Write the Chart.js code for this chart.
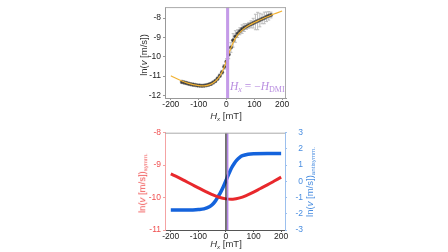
<!DOCTYPE html>
<html>
<head>
<meta charset="utf-8">
<script src="https://cdn.jsdelivr.net/npm/chart.js@4.4.0/dist/chart.umd.min.js"></script>
<style>
  body { margin: 0; width: 448px; height: 252px; background: #fff; position: relative; overflow: hidden;
         font-family: "Liberation Sans", Arial, sans-serif; }
  .wrap { position: absolute; }
  .lbl { position: absolute; white-space: nowrap; font-size: 9.5px; line-height: 1; }
  .rot { transform: translate(-50%, -50%) rotate(-90deg); }
  .hor { transform: translate(-50%, -50%); }
  .lbl sub { font-size: 65%; vertical-align: -0.3em; line-height: 0; }
  #dmi { left: 230px; top: 81px; font-family: "Liberation Serif", serif; font-size: 11.5px; color: #b98ee0; }
  #dmi sub { font-size: 70%; vertical-align: -0.3em; line-height: 0; }
</style>
</head>
<body>
<div class="wrap" style="left:100px;top:0;width:200px;height:125px"><canvas id="topChart" width="200" height="125"></canvas></div>
<div class="wrap" style="left:100px;top:125px;width:220px;height:127px"><canvas id="botChart" width="220" height="127"></canvas></div>

<div class="lbl rot" style="left:144px;top:55px;color:#333">ln(<i>v</i> [m/s])</div>
<div class="lbl hor" style="left:226px;top:116px;color:#333"><i>H</i><sub><i>x</i></sub> [mT]</div>
<div class="lbl" id="dmi"><i>H<sub>x</sub></i> = −<i>H</i><sub>DMI</sub></div>

<div class="lbl rot" style="left:141.5px;top:183px;color:#f05050">ln(<i>v</i> [m/s])<sub>symm.</sub></div>
<div class="lbl rot" style="left:309.5px;top:182px;color:#4a8ee0">ln(<i>v</i> [m/s])<sub>antisymm.</sub></div>
<div class="lbl hor" style="left:226px;top:244px;color:#333"><i>H</i><sub><i>x</i></sub> [mT]</div>

<script>
// ---------------- Data ----------------
// top panel: measured points with error bars
const fieldMT = [-160, -152, -144, -136, -128, -120, -112, -104, -96, -88, -80, -72, -64, -56, -48, -40,
  -32, -24, -16, -8, 0, 8, 16, 24, 32, 40, 48, 56, 64, 72, 80, 88, 96, 104, 112, 120, 128, 136, 144, 152, 160];
const lnV = [-11.30, -11.33, -11.36, -11.39, -11.42, -11.44, -11.46, -11.48, -11.49, -11.50, -11.49, -11.47,
  -11.44, -11.40, -11.33, -11.25, -11.13, -10.98, -10.80, -10.52, -10.25, -9.88, -9.52, -9.15, -8.95, -8.80,
  -8.68, -8.57, -8.49, -8.43, -8.37, -8.32, -8.26, -8.20, -8.15, -8.10, -8.04, -7.99, -7.93, -7.88, -7.84];
const lnVErr = [0.08, 0.08, 0.07, 0.07, 0.07, 0.07, 0.06, 0.06, 0.06, 0.06, 0.06, 0.06, 0.06, 0.07, 0.07, 0.08,
  0.08, 0.09, 0.10, 0.12, 0.15, 0.22, 0.25, 0.35, 0.30, 0.20, 0.18, 0.22, 0.20, 0.15, 0.15, 0.18, 0.25, 0.40,
  0.45, 0.35, 0.25, 0.30, 0.25, 0.22, 0.15];

// top panel: fit curve
const fitFieldMT = [-200, -180, -160, -140, -120, -100, -80, -60, -40, -30, -20, -10, 0, 10, 20, 30, 40, 60,
  80, 100, 120, 140, 160, 180, 200];
const fitLnV = [-10.98, -11.12, -11.25, -11.36, -11.44, -11.49, -11.50, -11.44, -11.26, -11.11, -10.90, -10.60,
  -10.20, -9.78, -9.40, -9.10, -8.88, -8.58, -8.38, -8.23, -8.10, -7.97, -7.85, -7.74, -7.63];

// bottom panel: symmetric / antisymmetric parts
const symFieldMT = [-200, -175, -150, -125, -100, -75, -50, -25, 0, 25, 50, 75, 100, 125, 150, 175, 200];
const symLnV = [-9.27, -9.37, -9.48, -9.59, -9.70, -9.81, -9.91, -9.99, -10.04, -10.05, -10.01, -9.93, -9.83,
  -9.72, -9.61, -9.49, -9.37];
const antiFieldMT = [-200, -150, -120, -100, -80, -60, -50, -40, -30, -20, -10, 0, 10, 20, 30, 40, 50, 60, 80,
  100, 150, 200];
const antiLnV = [-1.77, -1.77, -1.76, -1.74, -1.70, -1.57, -1.44, -1.25, -0.98, -0.70, -0.35, 0.05, 0.45, 0.82,
  1.10, 1.32, 1.48, 1.58, 1.67, 1.70, 1.71, 1.71];

const hDmiMT = 5;
const xTicks = [-200, -100, 0, 100, 200];
const topYTicks = [-12, -11, -10, -9, -8];
const symYTicks = [-11, -10, -9, -8];
const antiYTicks = [-3, -2, -1, 0, 1, 2, 3];

// ---------------- Helpers ----------------
const pts = (xs, ys) => xs.map((x, i) => ({ x, y: ys[i] }));
const vline = (x, y0, y1) => [{ x, y: y0 }, { x, y: y1 }];
const fixTicks = (arr) => (s) => { s.ticks = arr.map((v) => ({ value: v })); };
const tickFont = { family: "Liberation Sans", size: 8.5 };

const errorBars = {
  id: "errorBars",
  beforeDatasetsDraw(chart) {
    const { ctx, scales: { x, y } } = chart;
    ctx.save();
    ctx.strokeStyle = "#bdbdbd";
    ctx.lineWidth = 1;
    fieldMT.forEach((f, i) => {
      const px = x.getPixelForValue(f);
      const top = y.getPixelForValue(lnV[i] + lnVErr[i]);
      const bot = y.getPixelForValue(lnV[i] - lnVErr[i]);
      ctx.beginPath();
      ctx.moveTo(px, top); ctx.lineTo(px, bot);
      ctx.moveTo(px - 1.5, top); ctx.lineTo(px + 1.5, top);
      ctx.moveTo(px - 1.5, bot); ctx.lineTo(px + 1.5, bot);
      ctx.stroke();
    });
    ctx.restore();
  },
};

const frame = (color, sides) => ({
  id: "frame",
  afterDraw(chart) {
    const { ctx, chartArea: a } = chart;
    ctx.save();
    ctx.strokeStyle = color;
    ctx.lineWidth = 1;
    ctx.beginPath();
    if (sides.includes("top")) { ctx.moveTo(a.left, a.top + 0.5); ctx.lineTo(a.right, a.top + 0.5); }
    if (sides.includes("right")) { ctx.moveTo(a.right - 0.5, a.top); ctx.lineTo(a.right - 0.5, a.bottom); }
    ctx.stroke();
    ctx.restore();
  },
});

// ---------------- Top chart ----------------
new Chart(document.getElementById("topChart"), {
  type: "scatter",
  data: {
    datasets: [
      { type: "line", data: vline(hDmiMT - 1, -12.13, -7.43), borderColor: "#c49be8", borderWidth: 3, pointRadius: 0 },
      { type: "line", data: vline(hDmiMT + 2.5, -12.13, -7.43), borderColor: "#777", borderWidth: 0.8, pointRadius: 0 },
      { type: "line", data: pts(fitFieldMT, fitLnV), borderColor: "#f2b233", borderWidth: 1.2,
        pointRadius: 0, cubicInterpolationMode: "monotone" },
      { data: pts(fieldMT, lnV), backgroundColor: "#3a3a3a", borderColor: "#666", borderWidth: 0.5, pointRadius: 1.8 },
    ],
  },
  options: {
    responsive: false,
    animation: false,
    layout: { padding: { top: 1, right: 14, left: 0, bottom: 0 } },
    plugins: { legend: { display: false }, tooltip: { enabled: false } },
    scales: {
      x: {
        type: "linear", min: -221, max: 214,
        afterBuildTicks: fixTicks(xTicks),
        afterFit: (s) => { s.height = 27; },
        grid: { drawOnChartArea: false, tickLength: 2, color: "#999" },
        border: { color: "#999" },
        ticks: { font: tickFont, color: "#222", padding: 0, maxRotation: 0 },
      },
      y: {
        min: -12.13, max: -7.43,
        afterBuildTicks: fixTicks(topYTicks),
        afterFit: (s) => { s.width = 65; },
        grid: { drawOnChartArea: false, tickLength: 2, color: "#999" },
        border: { color: "#999" },
        ticks: { font: tickFont, color: "#222", padding: 2 },
      },
    },
  },
  plugins: [errorBars, frame("#aaa", ["top", "right"])],
});

// ---------------- Bottom chart ----------------
new Chart(document.getElementById("botChart"), {
  type: "line",
  data: {
    datasets: [
      { data: vline(0, -11, -8), borderColor: "#222", borderWidth: 1.2, pointRadius: 0, yAxisID: "y" },
      { data: vline(hDmiMT + 1, -11, -8), borderColor: "#b586e6", borderWidth: 1.6, pointRadius: 0, yAxisID: "y" },
      { data: pts(symFieldMT, symLnV), borderColor: "#e8282c", borderWidth: 3, pointRadius: 0,
        tension: 0.4, yAxisID: "y" },
      { data: pts(antiFieldMT, antiLnV), borderColor: "#1463dc", borderWidth: 3.5, pointRadius: 0,
        cubicInterpolationMode: "monotone", yAxisID: "y2" },
    ],
  },
  options: {
    responsive: false,
    animation: false,
    layout: { padding: { top: 7.7, right: 17, left: 0, bottom: 0 } },
    plugins: { legend: { display: false }, tooltip: { enabled: false } },
    scales: {
      x: {
        type: "linear", min: -221, max: 214,
        afterBuildTicks: fixTicks(xTicks),
        afterFit: (s) => { s.height = 22; },
        grid: { drawOnChartArea: false, tickLength: 2, color: "#555" },
        border: { color: "#555" },
        ticks: { font: tickFont, color: "#222", padding: 0, maxRotation: 0 },
      },
      y: {
        position: "left", min: -11, max: -8,
        afterBuildTicks: fixTicks(symYTicks),
        afterFit: (s) => { s.width = 65; },
        grid: { drawOnChartArea: false, tickLength: 2, color: "#f4a3a3" },
        border: { color: "#f4a3a3" },
        ticks: { font: tickFont, color: "#f05050", padding: 2 },
      },
      y2: {
        position: "right", min: -3, max: 3,
        afterBuildTicks: fixTicks(antiYTicks),
        afterFit: (s) => { s.width = 18; },
        grid: { drawOnChartArea: false, tickLength: 2, color: "#9cc0ee" },
        border: { color: "#9cc0ee" },
        ticks: { font: tickFont, color: "#4a8ee0", padding: 2, crossAlign: "far" },
      },
    },
  },
  plugins: [frame("#aaa", ["top"])],
});
</script>
</body>
</html>
